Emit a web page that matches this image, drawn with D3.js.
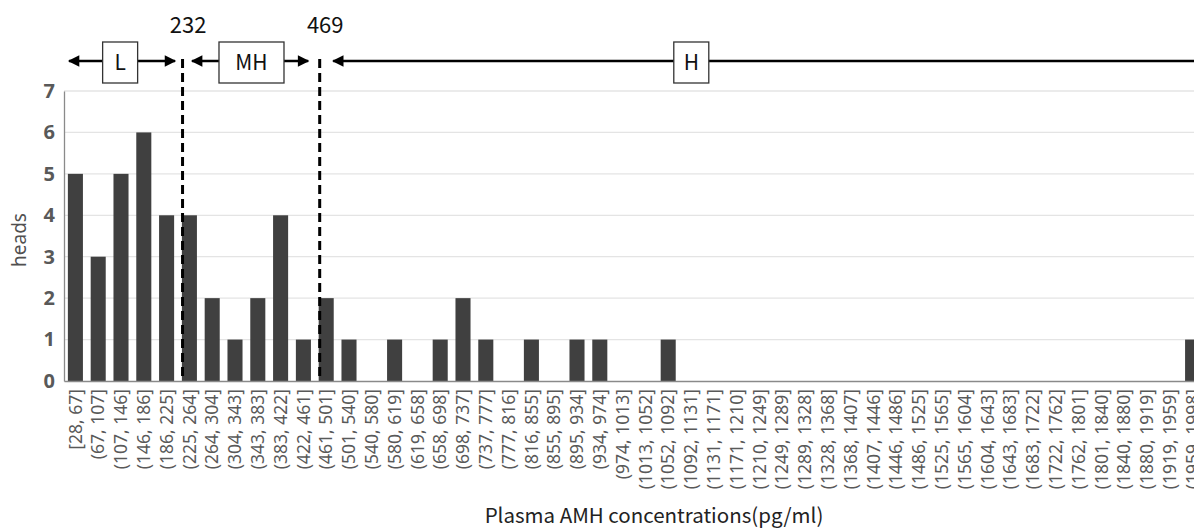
<!DOCTYPE html>
<html><head><meta charset="utf-8">
<script src="https://cdn.jsdelivr.net/npm/d3@7"></script>
<style>
html,body{margin:0;padding:0;background:#fff;overflow:hidden;}
svg{display:block;}
</style></head>
<body>
<svg id="chart" width="1194" height="531"></svg>
<script>
const categories = ["[28, 67]","(67, 107]","(107, 146]","(146, 186]","(186, 225]","(225, 264]","(264, 304]","(304, 343]","(343, 383]","(383, 422]","(422, 461]","(461, 501]","(501, 540]","(540, 580]","(580, 619]","(619, 658]","(658, 698]","(698, 737]","(737, 777]","(777, 816]","(816, 855]","(855, 895]","(895, 934]","(934, 974]","(974, 1013]","(1013, 1052]","(1052, 1092]","(1092, 1131]","(1131, 1171]","(1171, 1210]","(1210, 1249]","(1249, 1289]","(1289, 1328]","(1328, 1368]","(1368, 1407]","(1407, 1446]","(1446, 1486]","(1486, 1525]","(1525, 1565]","(1565, 1604]","(1604, 1643]","(1643, 1683]","(1683, 1722]","(1722, 1762]","(1762, 1801]","(1801, 1840]","(1840, 1880]","(1880, 1919]","(1919, 1959]","(1959, 1998]"];
const heads = [5,3,5,6,4,4,2,1,2,4,1,2,1,0,1,0,1,2,1,0,1,0,1,1,0,0,1,0,0,0,0,0,0,0,0,0,0,0,0,0,0,0,0,0,0,0,0,0,0,1];
const yTicks = [0,1,2,3,4,5,6,7];
const cutoffs = [232, 469];
const groupLabels = ["L", "MH", "H"];
const groupFrom = [28, 232, 469];
const groupTo = [232, 469, 2100];
const groupLabelAt = [125, 352, 1112];
const valueDomain = [28, 1998];

const svg = d3.select("#chart");
const mLeft = 64, mRight = 1204, mTop = 91, mBottom = 381;

const x = d3.scaleBand().domain(categories).range([mLeft, mRight]).paddingInner(0.34).paddingOuter(0.17);
const xv = d3.scaleLinear().domain(valueDomain).range([mLeft, mRight]);
const y = d3.scaleLinear().domain([0, 7]).range([mBottom, mTop]);

// gridlines
svg.append("g").selectAll("line").data(yTicks.filter(d => d > 0)).join("line")
  .attr("x1", mLeft).attr("x2", 1194).attr("y1", d => y(d)).attr("y2", d => y(d))
  .attr("stroke", "#e4e4e4").attr("stroke-width", 1.3);

// bars
svg.append("g").selectAll("rect").data(heads).join("rect")
  .attr("x", (d, i) => x(categories[i])).attr("width", x.bandwidth())
  .attr("y", d => y(d)).attr("height", d => y(0) - y(d))
  .attr("fill", "#404040");

// axes
const yAxis = svg.append("g").attr("transform", `translate(${mLeft},0)`)
  .call(d3.axisLeft(y).tickValues(yTicks).tickSize(0).tickPadding(9).tickFormat(d3.format("d")));
yAxis.select(".domain").attr("stroke", "#8a8a8a").attr("stroke-width", 1.3);
yAxis.selectAll("text").attr("font-family", "'Noto Sans', 'DejaVu Sans', sans-serif")
  .attr("font-weight", "bold").attr("font-size", 20).attr("fill", "#595959");

const xAxis = svg.append("g").attr("transform", `translate(0,${mBottom})`)
  .call(d3.axisBottom(x).tickSize(0).tickPadding(0));
xAxis.select(".domain").attr("stroke", "#8a8a8a").attr("stroke-width", 1.5);
xAxis.selectAll("text")
  .attr("font-family", "'Noto Sans', 'DejaVu Sans', sans-serif")
  .attr("font-size", 17.5).attr("fill", "#595959")
  .attr("text-anchor", "end").attr("dy", "0.35em")
  .attr("transform", "translate(0,8) rotate(-90)")
  .attr("x", 0).attr("y", 0);

// axis titles
svg.append("text").attr("transform", "translate(26,240) rotate(-90)")
  .attr("text-anchor", "middle").attr("font-family", "'Noto Sans', sans-serif")
  .attr("font-size", 19).attr("fill", "#505050").text("heads");
svg.append("text").attr("x", 654).attr("y", 523).attr("text-anchor", "middle")
  .attr("font-family", "'Noto Sans CJK JP', 'Noto Sans', sans-serif")
  .attr("font-size", 20.5).attr("fill", "#222").text("Plasma AMH concentrations(pg/ml)");

// dashed cutoff lines
svg.append("g").selectAll("line").data(cutoffs).join("line")
  .attr("x1", d => xv(d) + 0.5).attr("x2", d => xv(d) + 0.5)
  .attr("y1", 59).attr("y2", mBottom)
  .attr("stroke", "#000").attr("stroke-width", 3).attr("stroke-dasharray", "9,5");
svg.append("g").selectAll("text").data(cutoffs).join("text")
  .attr("x", d => xv(d) + 6).attr("y", 33).attr("text-anchor", "middle")
  .attr("font-family", "'Noto Sans CJK JP', 'Noto Sans', sans-serif")
  .attr("font-size", 22).attr("fill", "#111").text(d => d);

// arrow marker
const defs = svg.append("defs");
defs.append("marker").attr("id", "ah").attr("viewBox", "0 0 10 10")
  .attr("refX", 9).attr("refY", 5).attr("markerWidth", 5).attr("markerHeight", 4.4)
  .attr("markerUnits", "strokeWidth").attr("orient", "auto-start-reverse")
  .append("path").attr("d", "M0,0 L10,5 L0,10 Z").attr("fill", "#000");

const ay = 61;
const gapL = [5, 10, 14], gapR = [7, 11, 0];
const ag = svg.append("g");
groupLabels.forEach((lab, i) => {
  const x1 = xv(groupFrom[i]) + gapL[i];
  const x2 = xv(groupTo[i]) - gapR[i];
  const line = ag.append("line").attr("x1", x1).attr("x2", x2).attr("y1", ay).attr("y2", ay)
    .attr("stroke", "#000").attr("stroke-width", 2.6)
    .attr("marker-start", "url(#ah)");
  if (i < 2) line.attr("marker-end", "url(#ah)");
  const cx = xv(groupLabelAt[i]);
  const w = lab.length > 1 ? 65 : 35;
  ag.append("rect").attr("x", cx - w / 2).attr("y", 42).attr("width", w).attr("height", 41)
    .attr("fill", "#fff").attr("stroke", "#333").attr("stroke-width", 1.3);
  ag.append("text").attr("x", cx).attr("y", 70).attr("text-anchor", "middle")
    .attr("font-family", "'Noto Sans CJK JP', 'Noto Sans', sans-serif")
    .attr("font-size", 21).attr("fill", "#111").text(lab);
});
</script>
</body></html>
